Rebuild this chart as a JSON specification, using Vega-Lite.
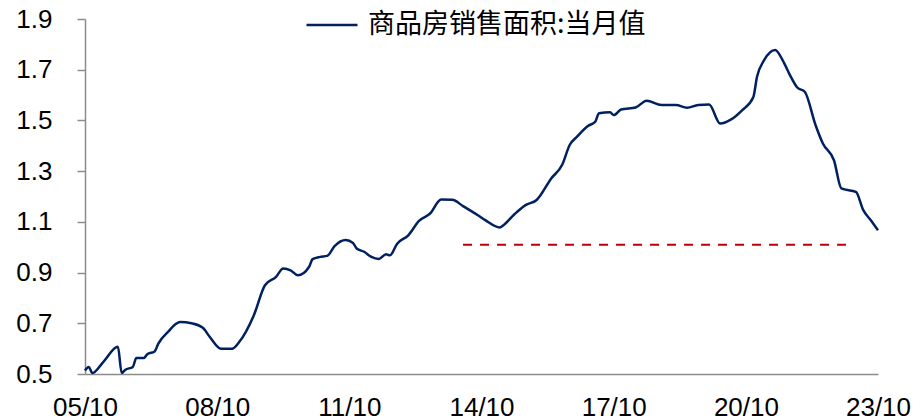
{
  "$schema": "https://vega.github.io/schema/vega-lite/v6.json",
  "width": 793,
  "height": 355,
  "autosize": {"type": "none"},
  "padding": {"left": 85, "top": 19, "right": 39, "bottom": 46},
  "background": "white",
  "config": {
    "view": {"stroke": null},
    "font": "Liberation Sans"
  },
  "datasets": {
    "series": [
      {"date": "2005-10", "value": 0.514, "series": "商品房销售面积:当月值"},
      {"date": "2005-11", "value": 0.528, "series": "商品房销售面积:当月值"},
      {"date": "2005-12", "value": 0.504, "series": "商品房销售面积:当月值"},
      {"date": "2006-03", "value": 0.547, "series": "商品房销售面积:当月值"},
      {"date": "2006-07", "value": 0.607, "series": "商品房销售面积:当月值"},
      {"date": "2006-08", "value": 0.504, "series": "商品房销售面积:当月值"},
      {"date": "2006-09", "value": 0.517, "series": "商品房销售面积:当月值"},
      {"date": "2006-11", "value": 0.528, "series": "商品房销售面积:当月值"},
      {"date": "2006-12", "value": 0.563, "series": "商品房销售面积:当月值"},
      {"date": "2007-02", "value": 0.563, "series": "商品房销售面积:当月值"},
      {"date": "2007-03", "value": 0.578, "series": "商品房销售面积:当月值"},
      {"date": "2007-05", "value": 0.589, "series": "商品房销售面积:当月值"},
      {"date": "2007-06", "value": 0.62, "series": "商品房销售面积:当月值"},
      {"date": "2007-09", "value": 0.672, "series": "商品房销售面积:当月值"},
      {"date": "2007-10", "value": 0.688, "series": "商品房销售面积:当月值"},
      {"date": "2007-12", "value": 0.705, "series": "商品房销售面积:当月值"},
      {"date": "2008-03", "value": 0.70, "series": "商品房销售面积:当月值"},
      {"date": "2008-06", "value": 0.683, "series": "商品房销售面积:当月值"},
      {"date": "2008-08", "value": 0.646, "series": "商品房销售面积:当月值"},
      {"date": "2008-11", "value": 0.60, "series": "商品房销售面积:当月值"},
      {"date": "2009-02", "value": 0.60, "series": "商品房销售面积:当月值"},
      {"date": "2009-04", "value": 0.626, "series": "商品房销售面积:当月值"},
      {"date": "2009-08", "value": 0.732, "series": "商品房销售面积:当月值"},
      {"date": "2009-11", "value": 0.85, "series": "商品房销售面积:当月值"},
      {"date": "2010-02", "value": 0.883, "series": "商品房销售面积:当月值"},
      {"date": "2010-04", "value": 0.916, "series": "商品房销售面积:当月值"},
      {"date": "2010-06", "value": 0.909, "series": "商品房销售面积:当月值"},
      {"date": "2010-08", "value": 0.889, "series": "商品房销售面积:当月值"},
      {"date": "2010-11", "value": 0.922, "series": "商品房销售面积:当月值"},
      {"date": "2010-12", "value": 0.953, "series": "商品房销售面积:当月值"},
      {"date": "2011-02", "value": 0.962, "series": "商品房销售面积:当月值"},
      {"date": "2011-04", "value": 0.966, "series": "商品房销售面积:当月值"},
      {"date": "2011-06", "value": 1.004, "series": "商品房销售面积:当月值"},
      {"date": "2011-09", "value": 1.028, "series": "商品房销售面积:当月值"},
      {"date": "2011-11", "value": 1.017, "series": "商品房销售面积:当月值"},
      {"date": "2011-12", "value": 0.995, "series": "商品房销售面积:当月值"},
      {"date": "2012-02", "value": 0.982, "series": "商品房销售面积:当月值"},
      {"date": "2012-04", "value": 0.962, "series": "商品房销售面积:当月值"},
      {"date": "2012-06", "value": 0.954, "series": "商品房销售面积:当月值"},
      {"date": "2012-08", "value": 0.972, "series": "商品房销售面积:当月值"},
      {"date": "2012-09", "value": 0.968, "series": "商品房销售面积:当月值"},
      {"date": "2012-11", "value": 1.014, "series": "商品房销售面积:当月值"},
      {"date": "2013-02", "value": 1.047, "series": "商品房销售面积:当月值"},
      {"date": "2013-05", "value": 1.104, "series": "商品房销售面积:当月值"},
      {"date": "2013-08", "value": 1.133, "series": "商品房销售面积:当月值"},
      {"date": "2013-11", "value": 1.188, "series": "商品房销售面积:当月值"},
      {"date": "2014-02", "value": 1.187, "series": "商品房销售面积:当月值"},
      {"date": "2014-05", "value": 1.162, "series": "商品房销售面积:当月值"},
      {"date": "2014-09", "value": 1.126, "series": "商品房销售面积:当月值"},
      {"date": "2014-11", "value": 1.107, "series": "商品房销售面积:当月值"},
      {"date": "2015-03", "value": 1.078, "series": "商品房销售面积:当月值"},
      {"date": "2015-04", "value": 1.087, "series": "商品房销售面积:当月值"},
      {"date": "2015-07", "value": 1.13, "series": "商品房销售面积:当月值"},
      {"date": "2015-10", "value": 1.166, "series": "商品房销售面积:当月值"},
      {"date": "2016-01", "value": 1.186, "series": "商品房销售面积:当月值"},
      {"date": "2016-05", "value": 1.271, "series": "商品房销售面积:当月值"},
      {"date": "2016-08", "value": 1.326, "series": "商品房销售面积:当月值"},
      {"date": "2016-10", "value": 1.403, "series": "商品房销售面积:当月值"},
      {"date": "2016-12", "value": 1.436, "series": "商品房销售面积:当月值"},
      {"date": "2017-03", "value": 1.478, "series": "商品房销售面积:当月值"},
      {"date": "2017-05", "value": 1.495, "series": "商品房销售面积:当月值"},
      {"date": "2017-06", "value": 1.528, "series": "商品房销售面积:当月值"},
      {"date": "2017-09", "value": 1.532, "series": "商品房销售面积:当月值"},
      {"date": "2017-10", "value": 1.521, "series": "商品房销售面积:当月值"},
      {"date": "2017-12", "value": 1.543, "series": "商品房销售面积:当月值"},
      {"date": "2018-04", "value": 1.551, "series": "商品房销售面积:当月值"},
      {"date": "2018-07", "value": 1.578, "series": "商品房销售面积:当月值"},
      {"date": "2018-11", "value": 1.561, "series": "商品房销售面积:当月值"},
      {"date": "2019-03", "value": 1.561, "series": "商品房销售面积:当月值"},
      {"date": "2019-06", "value": 1.55, "series": "商品房销售面积:当月值"},
      {"date": "2019-09", "value": 1.561, "series": "商品房销售面积:当月值"},
      {"date": "2019-12", "value": 1.563, "series": "商品房销售面积:当月值"},
      {"date": "2020-03", "value": 1.488, "series": "商品房销售面积:当月值"},
      {"date": "2020-06", "value": 1.504, "series": "商品房销售面积:当月值"},
      {"date": "2020-09", "value": 1.541, "series": "商品房销售面积:当月值"},
      {"date": "2020-12", "value": 1.591, "series": "商品房销售面积:当月值"},
      {"date": "2021-01", "value": 1.672, "series": "商品房销售面积:当月值"},
      {"date": "2021-03", "value": 1.738, "series": "商品房销售面积:当月值"},
      {"date": "2021-06", "value": 1.778, "series": "商品房销售面积:当月值"},
      {"date": "2021-08", "value": 1.738, "series": "商品房销售面积:当月值"},
      {"date": "2021-10", "value": 1.679, "series": "商品房销售面积:当月值"},
      {"date": "2021-12", "value": 1.63, "series": "商品房销售面积:当月值"},
      {"date": "2022-02", "value": 1.613, "series": "商品房销售面积:当月值"},
      {"date": "2022-05", "value": 1.482, "series": "商品房销售面积:当月值"},
      {"date": "2022-07", "value": 1.409, "series": "商品房销售面积:当月值"},
      {"date": "2022-10", "value": 1.343, "series": "商品房销售面积:当月值"},
      {"date": "2022-12", "value": 1.232, "series": "商品房销售面积:当月值"},
      {"date": "2023-04", "value": 1.218, "series": "商品房销售面积:当月值"},
      {"date": "2023-06", "value": 1.146, "series": "商品房销售面积:当月值"},
      {"date": "2023-08", "value": 1.107, "series": "商品房销售面积:当月值"},
      {"date": "2023-10", "value": 1.067, "series": "商品房销售面积:当月值"}
    ],
    "ref": [
      {"start": "2014-05", "end": "2023-02", "level": 1.01}
    ]
  },
  "layer": [
    {
      "data": {"name": "ref"},
      "mark": {"type": "rule", "color": "#C00000", "strokeWidth": 2, "strokeDash": [9, 8]},
      "encoding": {
        "x": {"field": "start", "type": "temporal"},
        "x2": {"field": "end"},
        "y": {"field": "level", "type": "quantitative"}
      }
    },
    {
      "data": {"name": "series"},
      "mark": {"type": "line", "strokeWidth": 2.5, "interpolate": "monotone"},
      "encoding": {
        "x": {
          "field": "date",
          "type": "temporal",
          "scale": {
            "type": "utc",
            "domain": [
              {"year": 2005, "month": 10, "date": 1, "utc": true},
              {"year": 2023, "month": 10, "date": 1, "utc": true}
            ],
            "nice": false
          },
          "axis": {
            "title": null,
            "format": "%y/%m",
            "values": [
              {"year": 2005, "month": 10, "date": 1, "utc": true},
              {"year": 2008, "month": 10, "date": 1, "utc": true},
              {"year": 2011, "month": 10, "date": 1, "utc": true},
              {"year": 2014, "month": 10, "date": 1, "utc": true},
              {"year": 2017, "month": 10, "date": 1, "utc": true},
              {"year": 2020, "month": 10, "date": 1, "utc": true},
              {"year": 2023, "month": 10, "date": 1, "utc": true}
            ],
            "grid": false,
            "ticks": false,
            "tickSize": 0,
            "labelPadding": 20,
            "labelFontSize": 26,
            "labelColor": "#000000",
            "labelFont": "Liberation Sans",
            "labelFlush": false,
            "labelOverlap": false,
            "domainColor": "#8c8c8c",
            "domainWidth": 1.5
          }
        },
        "y": {
          "field": "value",
          "type": "quantitative",
          "scale": {"domain": [0.5, 1.9], "nice": false, "zero": false},
          "axis": {
            "title": null,
            "values": [0.5, 0.7, 0.9, 1.1, 1.3, 1.5, 1.7, 1.9],
            "format": ".1f",
            "grid": false,
            "tickSize": 8,
            "tickColor": "#8c8c8c",
            "tickWidth": 1.5,
            "labelPadding": 25,
            "labelFontSize": 26,
            "labelColor": "#000000",
            "labelFont": "Liberation Sans",
            "labelFlush": false,
            "labelOverlap": false,
            "domainColor": "#8c8c8c",
            "domainWidth": 1.5
          }
        },
        "color": {
          "field": "series",
          "type": "nominal",
          "scale": {"domain": ["商品房销售面积:当月值"], "range": ["#002060"]},
          "legend": {
            "title": null,
            "orient": "none",
            "legendX": 220,
            "legendY": -21,
            "padding": 0,
            "symbolType": "stroke",
            "symbolSize": 2600,
            "symbolStrokeWidth": 2.5,
            "labelFont": "Noto Sans CJK SC",
            "labelFontSize": 27,
            "labelColor": "#000000",
            "labelOffset": 9,
            "labelLimit": 500
          }
        }
      }
    }
  ]
}
